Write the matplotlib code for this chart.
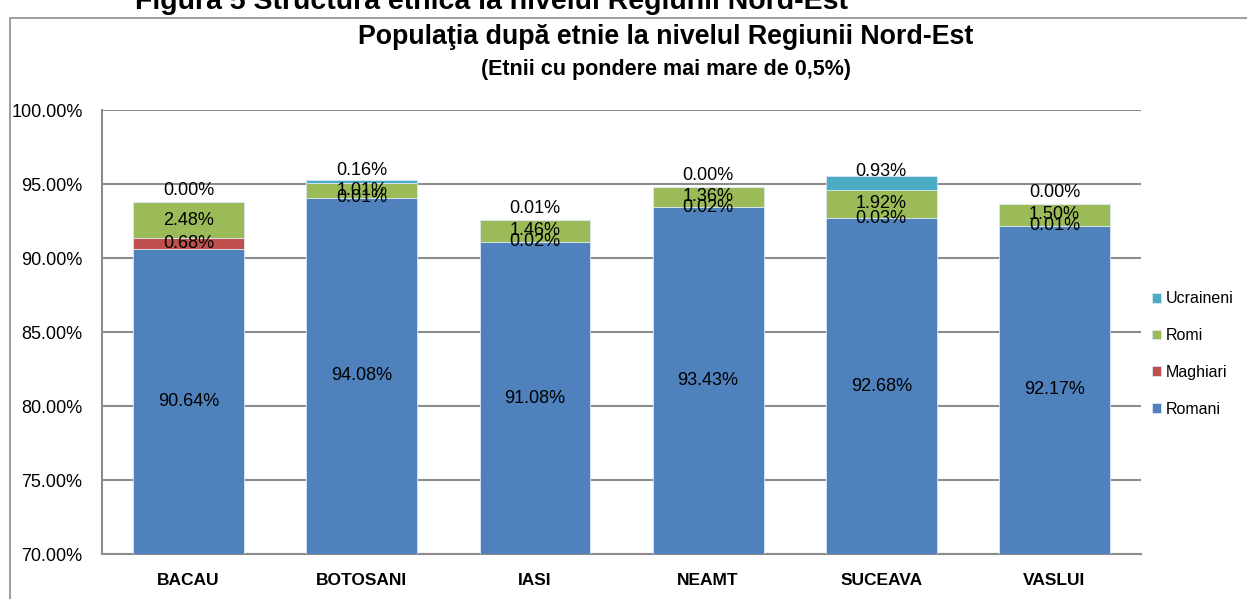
import matplotlib.pyplot as plt
import numpy as np
from matplotlib.patches import Rectangle

plt.rcParams['font.family'] = ['Liberation Sans', 'DejaVu Sans']

judete = ['BACAU', 'BOTOSANI', 'IASI', 'NEAMT', 'SUCEAVA', 'VASLUI']
romani = [90.64, 94.08, 91.08, 93.43, 92.68, 92.17]
maghiari = [0.68, 0.01, 0.02, 0.02, 0.03, 0.01]
romi = [2.48, 1.01, 1.46, 1.36, 1.92, 1.50]
ucraineni = [0.00, 0.16, 0.01, 0.00, 0.93, 0.00]

y_ticks = [70, 75, 80, 85, 90, 95, 100]

series = [
	('Romani', romani, '#4F81BD'),
	('Maghiari', maghiari, '#C0504D'),
	('Romi', romi, '#9BBB59'),
	('Ucraineni', ucraineni, '#4BACC6'),
]

FS = 13

fig = plt.figure(figsize=(12.47, 5.99), dpi=100)
ax = fig.add_axes([0.0818, 0.0751, 0.8332, 0.7412])

# chenarul graficului (taiat in dreapta si jos)
fig.patches.append(Rectangle((10 / 1247, -0.2), 1.2, 1.2 - 18 / 599, transform=fig.transFigure,
	fill=False, edgecolor='#8c8c8c', linewidth=1.2, clip_on=False))

x = np.arange(len(judete))
bottom = np.zeros(len(judete))
handles = []
for name, vals, color in series:
	vals = np.array(vals)
	b = ax.bar(x, vals, 0.64, bottom=bottom, color=color, edgecolor='#dbe6f2', linewidth=0.6,
		label=name, zorder=3)
	handles.append(b)
	for i, v in enumerate(vals):
		if name == 'Romani':
			ax.text(x[i], (70 + v) / 2, f'{v:.2f}%', ha='center', va='center', fontsize=FS, zorder=5)
		elif name == 'Ucraineni':
			ax.annotate(f'{v:.2f}%', (x[i], bottom[i] + v / 2), xytext=(0, 8), textcoords='offset points',
				ha='center', va='center', fontsize=FS, zorder=5)
		else:
			ax.text(x[i], bottom[i] + v / 2, f'{v:.2f}%', ha='center', va='center', fontsize=FS, zorder=5)
	bottom += vals

ax.set_ylim(70, 100)
ax.set_xlim(-0.5, len(judete) - 0.5)
ax.set_yticks(y_ticks)
ax.set_yticklabels([f'{t:.2f}%' for t in y_ticks], fontsize=FS)
ax.set_xticks(x)
ax.set_xticklabels(judete, fontsize=12.5, fontweight='bold')
ax.tick_params(axis='y', length=0, pad=14)
ax.tick_params(axis='x', length=0, pad=14)
ax.yaxis.grid(True, color='#8c8c8c', linewidth=1.5, zorder=0)
ax.set_axisbelow(True)
for s in ['top', 'right']:
	ax.spines[s].set_visible(False)
for s in ['left', 'bottom']:
	ax.spines[s].set_color('#8c8c8c')
	ax.spines[s].set_linewidth(1.5)

leg = fig.legend(handles[::-1], [h.get_label() for h in handles[::-1]], loc='upper left',
	bbox_to_anchor=(1138 / 1247, 1 - 277 / 599), frameon=False, fontsize=11.5,
	handlelength=0.55, handleheight=0.55, handletextpad=0.3, labelspacing=1.36)

fig.text(0.534, 1 - 37 / 599, 'Populaţia după etnie la nivelul Regiunii Nord-Est', ha='center', va='center',
	fontsize=19.3, fontweight='bold')
fig.text(0.534, 1 - 70 / 599, '(Etnii cu pondere mai mare de 0,5%)', ha='center', va='center',
	fontsize=15.5, fontweight='bold')
fig.text(0.394, 1 - 2 / 599, 'Figura 5 Structura etnică la nivelul Regiunii Nord-Est', ha='center', va='center',
	fontsize=20.5, fontweight='bold')

fig.savefig('out.png', dpi=100)
